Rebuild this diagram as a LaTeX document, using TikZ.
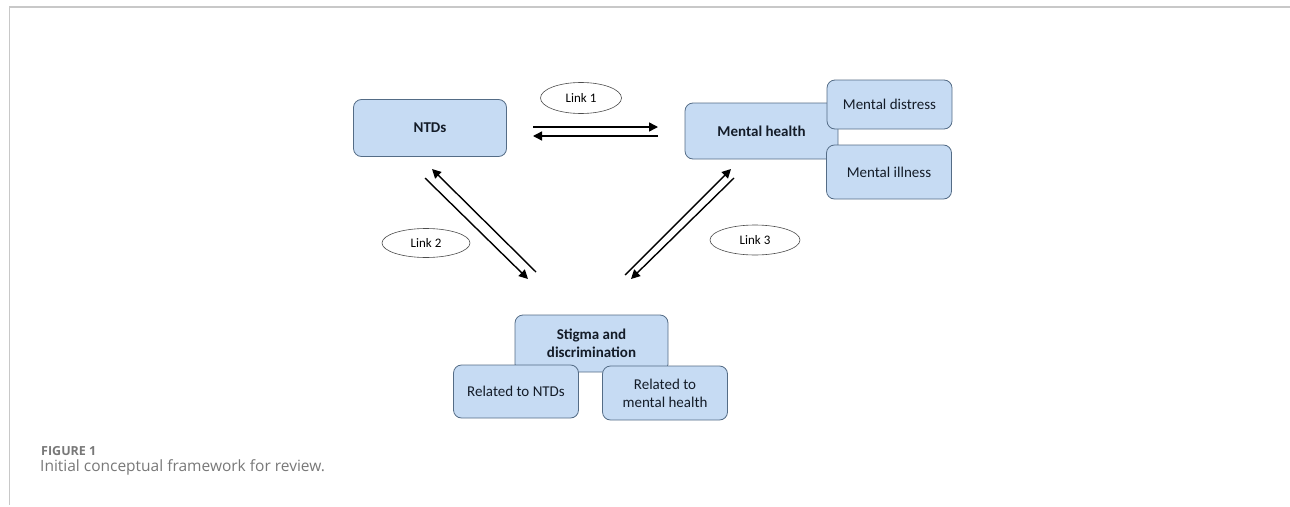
\documentclass[tikz,border=0pt]{standalone}
\usepackage{fontspec}
\setmainfont{Carlito}
\newfontfamily\captionfont{Open Sans}
\usetikzlibrary{arrows.meta, positioning, shapes.geometric}

\definecolor{boxfill}{RGB}{198,219,243}
\definecolor{boxline}{RGB}{84,108,134}
\definecolor{boxtext}{RGB}{20,28,40}
\definecolor{capgray}{RGB}{120,120,120}
\definecolor{framegray}{RGB}{200,200,200}

\begin{document}
\begin{tikzpicture}[
                x=1pt, y=-1pt,
                block/.style={rectangle, rounded corners=8pt, draw=boxline, fill=boxfill, line width=0.8pt, align=center, text=boxtext, font=\fontsize{15}{18}\selectfont, inner sep=2pt},
                bigblock/.style={block, minimum width=153pt, minimum height=57pt, font=\fontsize{15}{18}\selectfont\bfseries},
                subblock/.style={block, minimum width=125pt, minimum height=53pt},
                link/.style={ellipse, draw=black!70, fill=white, line width=0.6pt, font=\fontsize{13}{15}\selectfont, inner sep=0pt},
                flow/.style={line width=1.4pt, -{Triangle[length=9pt, width=9pt]}},
                every node/.style={align=center}
            ]
            \useasboundingbox (0,0) rectangle (1290,506);

            % frame
            \draw[framegray, line width=2pt] (9,7) -- (1290,7);
            \draw[framegray, line width=1pt] (9,7) -- (9,505);

            % boxes
            \node[bigblock] (ntds) at (430,128) {NTDs};
            \node[bigblock, minimum height=56pt] (mh) at (761.5,131) {Mental health};
            \node[subblock, minimum height=49pt] (distress) at (889.5,104.5) {Mental distress};
            \node[subblock, minimum height=54pt] (illness) at (889,172) {Mental illness};

            \node[bigblock] (stigma) at (591.5,343.5) {Stigma and\\discrimination};
            \node[subblock] (relntds) at (516,391.5) {Related to NTDs};
            \node[subblock, minimum height=54pt] (relmh) at (665,393) {Related to\\mental health};

            % link labels
            \node[link, minimum width=81pt, minimum height=31pt] (link1) at (581,98) {Link 1};
            \node[link, minimum width=88pt, minimum height=29pt] (link2) at (426,243) {Link 2};
            \node[link, minimum width=90pt, minimum height=30pt] (link3) at (755,240) {Link 3};

            % arrow ends
            \coordinate (a1s) at (533,127);
            \coordinate (a1e) at (658,127);
            \coordinate (b1s) at (658,136);
            \coordinate (b1e) at (533,136);

            \coordinate (a2s) at (536,272);
            \coordinate (a2e) at (432,169);
            \coordinate (b2s) at (425,178);
            \coordinate (b2e) at (528,279);

            \coordinate (a3s) at (625,275);
            \coordinate (a3e) at (731,169);
            \coordinate (b3s) at (734,178);
            \coordinate (b3e) at (631,279);

            \draw[flow] (a1s) -- (a1e);
            \draw[flow] (b1s) -- (b1e);
            \draw[flow] (a2s) -- (a2e);
            \draw[flow] (b2s) -- (b2e);
            \draw[flow] (a3s) -- (a3e);
            \draw[flow] (b3s) -- (b3e);

            % caption
            \node[anchor=base west, inner sep=0pt, text=capgray, font=\captionfont\bfseries\fontsize{12.5}{14}\selectfont] (figno) at (41,455) {FIGURE 1};
            \node[anchor=base west, inner sep=0pt, text=capgray, font=\captionfont\fontsize{15.5}{18}\selectfont] (figcap) at (40,471) {Initial conceptual framework for review.};
        \end{tikzpicture}
\end{document}
